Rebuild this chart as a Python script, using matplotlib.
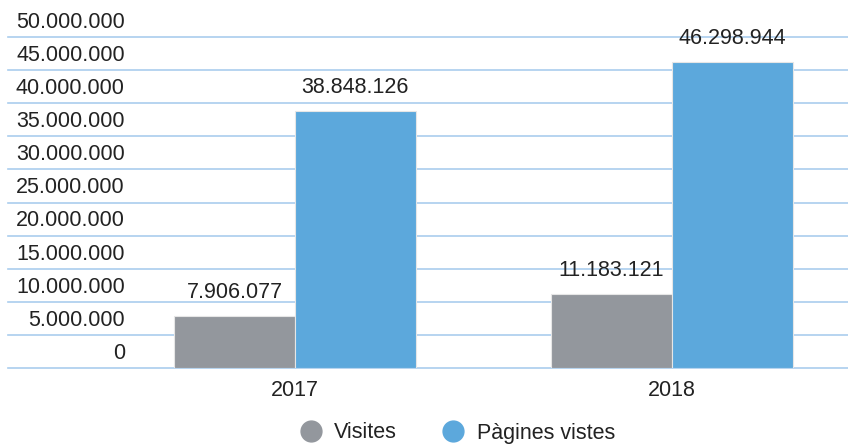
import numpy as np
import matplotlib.pyplot as plt
from matplotlib.lines import Line2D

plt.rcParams['font.family'] = ['Liberation Sans', 'DejaVu Sans']

# Data
years = ["2017", "2018"]
visites = [7906077, 11183121]
pagines = [38848126, 46298944]
y_ticks = [0, 5000000, 10000000, 15000000, 20000000, 25000000,
           30000000, 35000000, 40000000, 45000000, 50000000]

GRAY = "#93979d"
BLUE = "#5ca8dc"
GRID = "#aacdee"
TEXT = "#222222"
FS = 15.5


def fmt(v):
    return f"{v:,}".replace(",", ".")


fig = plt.figure(figsize=(8.48, 4.45), dpi=100)
ax = fig.add_axes([8 / 848, 77 / 445, 840 / 848, (368 - 37) / 445])

x = np.arange(len(years))
width = 0.32

b1 = ax.bar(x - width / 2, visites, width, color=GRAY, edgecolor="#e6e6e6",
            linewidth=0.8, zorder=3)
b2 = ax.bar(x + width / 2, pagines, width, color=BLUE, edgecolor="#e6e6e6",
            linewidth=0.8, zorder=3)

for bars, vals in [(b1, visites), (b2, pagines)]:
    for rect, v in zip(bars, vals):
        ax.annotate(fmt(v), (rect.get_x() + rect.get_width() / 2, v),
                    xytext=(0, 9), textcoords="offset points",
                    ha="center", va="bottom", fontsize=FS, color=TEXT)

ax.set_xlim(-0.761, 1.467)
ax.set_ylim(0, 50000000)

# gridlines
for t in y_ticks:
    ax.axhline(t, color=GRID, linewidth=1.2, zorder=1, clip_on=False)

# y labels sit just above their gridline
for t in y_ticks:
    ax.annotate(fmt(t), (0.139, t), xycoords=("axes fraction", "data"),
                xytext=(0, 3), textcoords="offset points",
                ha="right", va="bottom", fontsize=FS, color=TEXT,
                annotation_clip=False)
ax.set_yticks([])

ax.set_xticks(x)
ax.set_xticklabels(years, fontsize=FS, color=TEXT)
ax.tick_params(axis="x", length=0, pad=9)

for s in ax.spines.values():
    s.set_visible(False)

handles = [
    Line2D([], [], marker="o", linestyle="none", markersize=15,
           markerfacecolor=GRAY, markeredgecolor=GRAY, label="Visites"),
    Line2D([], [], marker="o", linestyle="none", markersize=15,
           markerfacecolor=BLUE, markeredgecolor=BLUE, label="Pàgines vistes"),
]
fig.legend(handles=handles, loc="center", bbox_to_anchor=(452 / 848, 12 / 445),
           ncol=2, frameon=False, fontsize=FS, handletextpad=0.1,
           columnspacing=1.6, labelcolor=TEXT, borderpad=0.1)

fig.savefig("out.png", dpi=100)
